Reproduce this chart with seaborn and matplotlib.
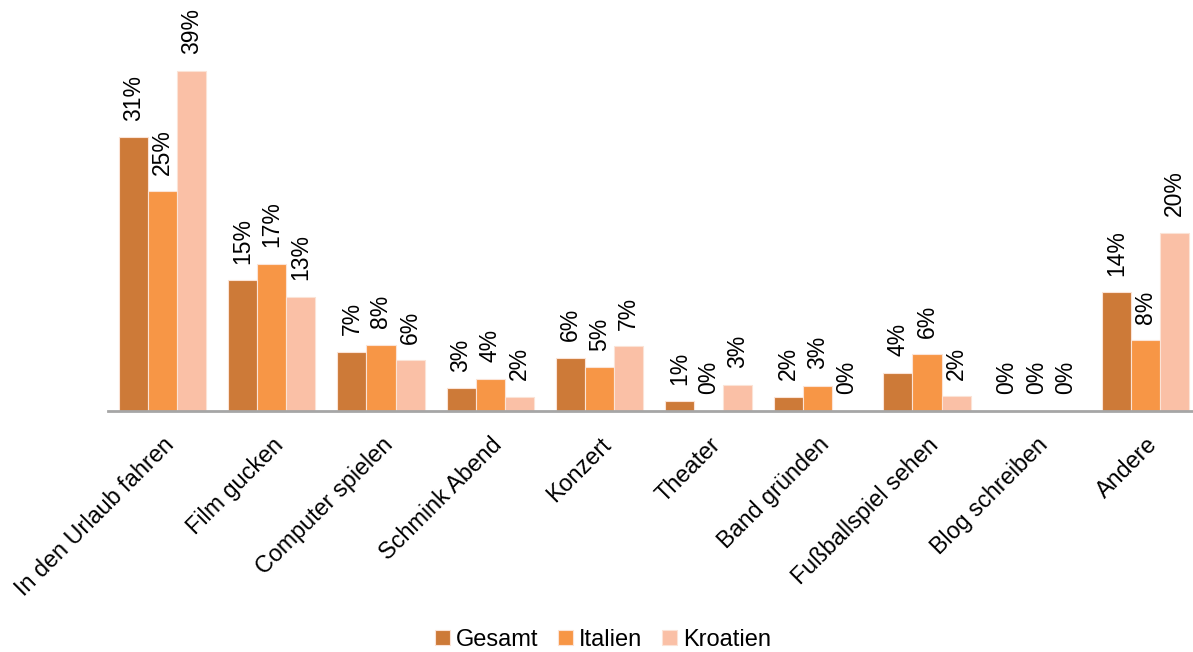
import matplotlib
matplotlib.use("Agg")
import matplotlib.pyplot as plt
import seaborn as sns
import pandas as pd

# Freizeitaktivitäten: Anteile in Prozent je Gruppe
categories = ["In den Urlaub fahren", "Film gucken", "Computer spielen", "Schmink Abend",
              "Konzert", "Theater", "Band gründen", "Fußballspiel sehen",
              "Blog schreiben", "Andere"]
gesamt = [31.4, 15.0, 6.8, 2.6, 6.1, 1.1, 1.6, 4.4, 0.0, 13.6]
italien = [25.2, 16.9, 7.6, 3.7, 5.0, 0.0, 2.9, 6.5, 0.0, 8.1]
kroatien = [39.0, 13.1, 5.8, 1.6, 7.4, 3.0, 0.0, 1.7, 0.0, 20.4]
series = ["Gesamt", "Italien", "Kroatien"]
colors = ["#CD7A38", "#F79646", "#FAC0A6"]

df = pd.DataFrame({
    "Aktivität": categories * 3,
    "Gruppe": [s for s in series for _ in categories],
    "Anteil": gesamt + italien + kroatien,
})

sns.set_theme(style="white")
plt.rcParams["font.family"] = ["Liberation Sans", "DejaVu Sans"]
plt.rcParams["text.color"] = "black"

fig = plt.figure(figsize=(11.93, 6.52), dpi=100)
ax = fig.add_axes([108 / 1193, 1 - 411 / 652, 1092 / 1193, (411 - 10) / 652])

sns.barplot(data=df, x="Aktivität", y="Anteil", hue="Gruppe", order=categories,
            hue_order=series, palette=colors, width=0.8, gap=0,
            edgecolor="#FBE3D6", linewidth=0.8, saturation=1, ax=ax, legend=True)

for cont in ax.containers:
    ax.bar_label(cont, labels=[f"{v:.0f}%" for v in cont.datavalues],
                 rotation=90, padding=12, fontsize=16.5, color="black")

ax.set_ylim(0, 46)
ax.set_xlim(-0.5, len(categories) - 0.5)
ax.set_xlabel("")
ax.set_ylabel("")
ax.set_yticks([])
ax.tick_params(axis="x", length=0, pad=16)
for lab in ax.get_xticklabels():
    lab.set_rotation(45)
    lab.set_ha("right")
    lab.set_va("top")
    lab.set_rotation_mode("anchor")
    lab.set_fontsize(16.8)
    lab.set_color("black")

for side in ["top", "right", "left"]:
    ax.spines[side].set_visible(False)
ax.spines["bottom"].set_color("#A6A6A6")
ax.spines["bottom"].set_linewidth(2)

handles, labels = ax.get_legend_handles_labels()
ax.legend_.remove()
leg = fig.legend(handles, labels, loc="center", bbox_to_anchor=(603 / 1193, 1 - 640 / 652),
                 ncol=3, frameon=False, fontsize=17, handlelength=0.62, handleheight=0.62,
                 handletextpad=0.25, columnspacing=0.85)
for t in leg.get_texts():
    t.set_color("black")

fig.savefig("out.png", dpi=100)
